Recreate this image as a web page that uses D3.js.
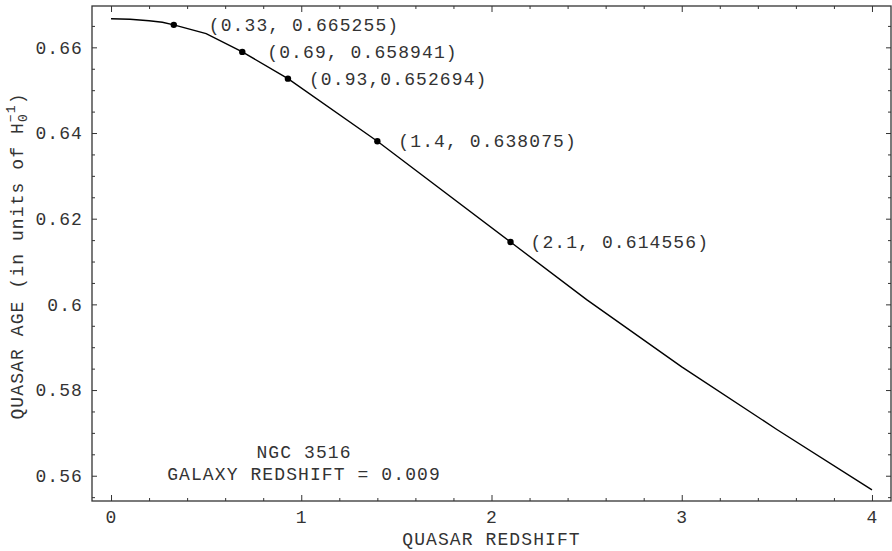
<!DOCTYPE html>
<html>
<head>
<meta charset="utf-8">
<script src="https://cdn.jsdelivr.net/npm/d3@7"></script>
<style>
  body { margin: 0; background: #fff; }
  svg text { font-family: "Liberation Mono", "DejaVu Sans Mono", monospace; fill: #333; }
</style>
</head>
<body>
<div class="chart"></div>
<script>
// curve
const redshift = [0, 0.1, 0.2, 0.27, 0.33, 0.5, 0.69, 0.93, 1.4, 2.1, 2.5, 3, 3.5, 4];
const quasarAge = [0.66667, 0.66655, 0.6662, 0.66585, 0.665255, 0.6632, 0.658941, 0.652694, 0.638075, 0.614556, 0.6011, 0.5854, 0.5708, 0.5567];

// marked points
const markZ = [0.33, 0.69, 0.93, 1.4, 2.1];
const markAge = [0.665255, 0.658941, 0.652694, 0.638075, 0.614556];
const markText = ["(0.33, 0.665255)", "(0.69, 0.658941)", "(0.93,0.652694)", "(1.4, 0.638075)", "(2.1, 0.614556)"];
const markDx = [35, 25, 21, 21, 20];

const xTicks = [0, 1, 2, 3, 4];
const xTickLabels = ["0", "1", "2", "3", "4"];
const yTicks = [0.56, 0.58, 0.6, 0.62, 0.64, 0.66];
const yTickLabels = ["0.56", "0.58", "0.6", "0.62", "0.64", "0.66"];

const W = 892, H = 551;
const pLeft = 92, pRight = 891, pTop = 6, pBottom = 501;
const fontSize = '18px', spacing = '1.1px';

const svg = d3.select('.chart').append('svg')
    .attr('width', W)
    .attr('height', H);

const xScale = d3.scaleLinear().domain([-0.1, 4.1]).range([pLeft, pRight]);
const yScale = d3.scaleLinear().domain([0.5541, 0.66965]).range([pBottom, pTop]);

const xMinor = d3.range(0, 41, 2).map(d => d / 10).filter(d => xTicks.indexOf(d) < 0);
const yMinor = d3.range(555, 670, 5).map(d => d / 1000).filter(d => !yTicks.some(t => Math.abs(t - d) < 1e-9));

function styleAxis(g) {
    g.select('.domain').remove();
    g.selectAll('line').attr('stroke', '#333').attr('stroke-width', 1);
    g.selectAll('text').style('font-size', fontSize).style('letter-spacing', spacing).attr('fill', '#333');
}

// bottom
svg.append('g').attr('transform', `translate(0,${pBottom})`)
    .call(d3.axisBottom(xScale).tickValues(xTicks).tickSize(-6).tickPadding(9)
        .tickFormat((d, i) => xTickLabels[i]))
    .call(styleAxis);
svg.append('g').attr('transform', `translate(0,${pBottom})`)
    .call(d3.axisBottom(xScale).tickValues(xMinor).tickSize(-3).tickFormat(''))
    .call(styleAxis);
// top
svg.append('g').attr('transform', `translate(0,${pTop})`)
    .call(d3.axisTop(xScale).tickValues(xTicks).tickSize(-6).tickFormat(''))
    .call(styleAxis);
svg.append('g').attr('transform', `translate(0,${pTop})`)
    .call(d3.axisTop(xScale).tickValues(xMinor).tickSize(-3).tickFormat(''))
    .call(styleAxis);
// left
svg.append('g').attr('transform', `translate(${pLeft},0)`)
    .call(d3.axisLeft(yScale).tickValues(yTicks).tickSize(-5).tickPadding(9)
        .tickFormat((d, i) => yTickLabels[i]))
    .call(styleAxis);
svg.append('g').attr('transform', `translate(${pLeft},0)`)
    .call(d3.axisLeft(yScale).tickValues(yMinor).tickSize(-3).tickFormat(''))
    .call(styleAxis);
// right
svg.append('g').attr('transform', `translate(${pRight},0)`)
    .call(d3.axisRight(yScale).tickValues(yTicks).tickSize(-5).tickFormat(''))
    .call(styleAxis);
svg.append('g').attr('transform', `translate(${pRight},0)`)
    .call(d3.axisRight(yScale).tickValues(yMinor).tickSize(-3).tickFormat(''))
    .call(styleAxis);

// frame
svg.append('rect')
    .attr('x', pLeft).attr('y', pTop)
    .attr('width', pRight - pLeft).attr('height', pBottom - pTop)
    .attr('fill', 'none').attr('stroke', '#333').attr('stroke-width', 1.3);

// curve
const line = d3.line()
    .x((d, i) => xScale(redshift[i]))
    .y(d => yScale(d));
svg.append('path')
    .datum(quasarAge)
    .attr('d', line)
    .attr('fill', 'none')
    .attr('stroke', '#000')
    .attr('stroke-width', 1.4);

// marked points
svg.selectAll('.dot')
    .data(markZ)
    .enter()
    .append('circle')
    .attr('class', 'dot')
    .attr('cx', d => xScale(d))
    .attr('cy', (d, i) => yScale(markAge[i]))
    .attr('r', 3.2)
    .attr('fill', '#000');

svg.selectAll('.mark-label')
    .data(markZ)
    .enter()
    .append('text')
    .attr('class', 'mark-label')
    .attr('x', (d, i) => xScale(d) + markDx[i])
    .attr('y', (d, i) => yScale(markAge[i]) + 6)
    .style('font-size', fontSize)
    .style('letter-spacing', spacing)
    .text((d, i) => markText[i]);

// galaxy note
const note = svg.append('g').attr('transform', 'translate(304,0)');
note.append('text').attr('x', 0).attr('y', 458)
    .attr('text-anchor', 'middle')
    .style('font-size', fontSize).style('letter-spacing', spacing)
    .text('NGC 3516');
note.append('text').attr('x', 0).attr('y', 480)
    .attr('text-anchor', 'middle')
    .style('font-size', fontSize).style('letter-spacing', spacing)
    .text('GALAXY REDSHIFT = 0.009');

// axis titles
svg.append('text')
    .attr('x', (pLeft + pRight) / 2)
    .attr('y', 545)
    .attr('text-anchor', 'middle')
    .style('font-size', fontSize).style('letter-spacing', spacing)
    .text('QUASAR REDSHIFT');

const yLabel = svg.append('text')
    .attr('transform', 'translate(23,256) rotate(-90)')
    .attr('text-anchor', 'middle')
    .style('font-size', fontSize).style('letter-spacing', spacing);
yLabel.append('tspan').text('QUASAR AGE (in units of H');
yLabel.append('tspan').attr('dy', 4).style('font-size', '13px').text('0');
yLabel.append('tspan').attr('dx', -9).attr('dy', -12).style('font-size', '13px').text('\u22121');
yLabel.append('tspan').attr('dy', 8).text(')');
</script>
</body>
</html>
